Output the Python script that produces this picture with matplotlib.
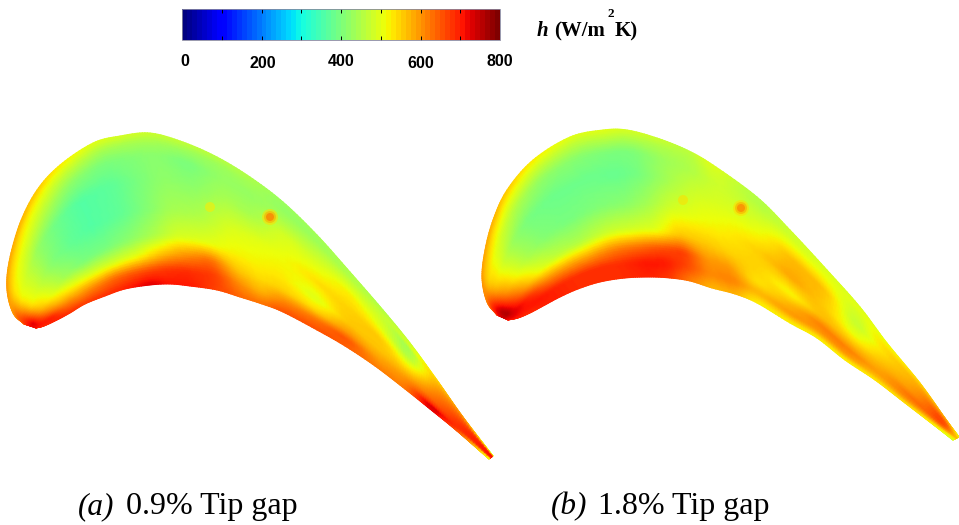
import numpy as np
import matplotlib
matplotlib.use("Agg")
import matplotlib.pyplot as plt
from matplotlib.cm import ScalarMappable
from matplotlib.colors import Normalize

W, H = 959, 525
H_MIN, H_MAX = 0, 800
TICKS = [100, 200, 300, 400, 500, 600, 700]
TICK_TEXT = ["0", "200", "400", "600", "800"]
TICK_TEXT_X = [185, 263, 341, 421, 500]
TICK_TEXT_Y = [62, 63, 61, 63, 61]

ROWS_T = [0, .06, .15, .3, .5, .68, .8, .9, 1]

A_UPPER = [(24,324),(13,313),(7,290),(9,262),(20,223),(37,190),(60,165),(93,143),(120,136),(150,133),
           (183,142),(217,157),(250,177),(283,202),(317,235),(350,272),(383,310),(410,343),(437,380),(463,417),(493,456)]
A_LOWER = [(36,328),(44,326),(57,320),(70,313),(85,304),(105,296),(125,289),(150,285),(170,284),(190,286),
           (217,290),(240,297),(262,304),(283,312),(317,330),(345,346),(375,366),(405,389),(430,409),(457,431),(489,459)]
A_VALUES = [
 [620,650,680,700,720,720,720,720,700],
 [590,610,640,660,700,730,720,710,690],
 [600,570,540,520,530,580,640,700,700],
 [590,550,510,480,480,510,570,640,690],
 [580,530,490,420,410,440,520,600,680],
 [560,510,460,385,375,400,500,620,690],
 [530,480,420,360,360,395,490,640,700],
 [500,450,400,370,375,420,510,660,740],
 [490,440,405,395,405,450,560,680,710],
 [480,440,415,420,440,490,600,690,710],
 [470,430,395,415,450,500,640,680,670],
 [460,430,425,445,490,520,560,610,640],
 [450,440,425,440,500,520,540,570,630],
 [430,420,440,490,510,530,550,610,660],
 [440,430,455,490,540,490,540,630,660],
 [450,450,480,530,550,560,600,660,650],
 [450,470,480,500,560,560,580,600,620],
 [470,490,430,440,510,570,600,610,620],
 [540,560,580,600,620,640,680,750,740],
 [600,620,640,660,680,690,690,680,660],
 [480,500,600,700,720,700,650,560,500],
]
A_SPOTS_X = [270, 270, 270, 210]
A_SPOTS_Y = [217, 217, 217, 207]
A_SPOTS_R = [8, 6, 4, 5]
A_SPOTS_V = [540, 590, 640, 530]

B_UPPER = [(497,315),(487,302),(482,278),(485,250),(493,220),(507,190),(533,160),(570,137),(603,130),(627,130),
           (657,138),(687,150),(713,165),(757,197),(790,230),(827,270),(860,307),(887,343),(920,383),(945,418),(959,437)]
B_LOWER = [(508,320),(518,318),(530,313),(545,305),(560,297),(578,289),(600,282),(625,278),(650,277),(670,278),
           (690,281),(712,288),(735,294),(757,303),(790,323),(817,338),(845,360),(875,380),(905,403),(935,426),(953,440)]
B_VALUES = [
 [650,690,710,730,740,740,720,720,700],
 [610,640,680,720,760,770,740,720,700],
 [600,570,550,570,620,680,720,710,690],
 [590,550,510,490,520,590,680,710,700],
 [580,530,480,430,450,510,620,700,700],
 [560,510,450,395,410,470,600,690,690],
 [530,480,420,385,395,450,590,690,690],
 [500,460,410,385,405,480,620,690,690],
 [500,460,400,380,415,490,640,710,700],
 [490,450,400,395,440,500,660,710,680],
 [480,450,430,440,490,560,680,670,620],
 [460,450,450,480,510,560,600,610,570],
 [500,490,480,490,520,550,600,620,580],
 [450,450,470,500,550,550,530,570,520],
 [480,480,510,570,590,510,570,600,520],
 [490,500,520,570,560,570,620,600,520],
 [490,500,480,460,500,570,620,600,520],
 [510,520,540,540,560,580,590,570,530],
 [540,560,580,590,600,630,620,590,540],
 [580,600,640,680,680,650,600,560,520],
 [500,510,520,540,560,540,520,500,490],
]
B_SPOTS_X = [741, 741, 741, 683]
B_SPOTS_Y = [208, 208, 208, 200]
B_SPOTS_R = [8, 6, 4, 5]
B_SPOTS_V = [540, 590, 630, 540]


def catmull(points, per_segment=12):
    p = np.asarray(points, float)
    q = np.vstack([2 * p[0] - p[1], p, 2 * p[-1] - p[-2]])
    u = np.linspace(0, 1, per_segment, endpoint=False)[:, None]
    out = []
    for i in range(1, len(q) - 2):
        a, b, c, d = q[i - 1], q[i], q[i + 1], q[i + 2]
        out.append(0.5 * (2 * b + (c - a) * u + (2 * a - 5 * b + 4 * c - d) * u**2 + (3 * b - a - 3 * c + d) * u**3))
    out.append(p[-1:])
    return np.vstack(out)


def blur(arr, width, axis):
    pad = [(0, 0), (0, 0)]
    pad[axis] = (width, width)
    padded = np.pad(arr, pad, mode="edge")
    kernel = np.ones(2 * width + 1) / (2 * width + 1)
    return np.apply_along_axis(lambda r: np.convolve(r, kernel, mode="valid"), axis, padded)


def draw_blade(ax, upper, lower, values, cmap, norm, sx, sy, sr, sv):
    per = 12
    up, lo = catmull(upper, per), catmull(lower, per)
    t = np.linspace(0, 1, 61)
    v = np.asarray(values, float)
    across = np.array([np.interp(t, ROWS_T, row) for row in v])
    s_fine = np.linspace(0, len(v) - 1, len(up))
    field = np.array([np.interp(s_fine, np.arange(len(v)), across[:, j]) for j in range(len(t))]).T
    field = blur(blur(field, 3, 0), 1, 1)
    X = up[:, 0][:, None] * (1 - t) + lo[:, 0][:, None] * t
    Y = up[:, 1][:, None] * (1 - t) + lo[:, 1][:, None] * t
    ax.pcolormesh(X, Y, field, cmap=cmap, norm=norm, shading="gouraud", zorder=2)
    for x, y, r, val in zip(sx, sy, sr, sv):
        ax.add_patch(plt.Circle((x, y), r, color=cmap(norm(val)), alpha=0.55, lw=0, zorder=3))


fig = plt.figure(figsize=(W / 100, H / 100), dpi=100, facecolor="white")
ax = fig.add_axes([0, 0, 1, 1])
ax.set_xlim(0, W)
ax.set_ylim(H, 0)
ax.axis("off")

norm = Normalize(H_MIN, H_MAX)
jet = plt.get_cmap("jet")
draw_blade(ax, A_UPPER, A_LOWER, A_VALUES, jet, norm, A_SPOTS_X, A_SPOTS_Y, A_SPOTS_R, A_SPOTS_V)
draw_blade(ax, B_UPPER, B_LOWER, B_VALUES, jet, norm, B_SPOTS_X, B_SPOTS_Y, B_SPOTS_R, B_SPOTS_V)

cax = fig.add_axes([182 / W, 1 - 40 / H, (500 - 182) / W, 31 / H])
sm = ScalarMappable(norm=norm, cmap=plt.get_cmap("jet", 64))
cb = fig.colorbar(sm, cax=cax, orientation="horizontal", ticks=TICKS)
cb.outline.set_linewidth(0.6)
cb.outline.set_edgecolor("#8888a0")
cax.tick_params(axis="x", direction="in", length=3, width=0.7, top=True, bottom=True,
                labelbottom=False, color="black")

for s, x, y in zip(TICK_TEXT, TICK_TEXT_X, TICK_TEXT_Y):
    ax.text(x, y, s, family="Liberation Sans", weight="bold", fontsize=11.5, ha="center", va="center", color="black")

serif = "Liberation Serif"
ax.text(537, 36, "h", family=serif, weight="bold", style="italic", fontsize=15, ha="left", va="baseline")
ax.text(554, 36, "(W/m", family=serif, weight="bold", fontsize=15, ha="left", va="baseline")
ax.text(607, 17, "2", family=serif, weight="bold", fontsize=9.5, ha="left", va="baseline")
ax.text(615, 36, "K)", family=serif, weight="bold", fontsize=15, ha="left", va="baseline")

ax.text(78, 514, "(a)", family=serif, style="italic", fontsize=22.5, ha="left", va="baseline")
ax.text(126, 514, "0.9% Tip gap", family=serif, fontsize=23, ha="left", va="baseline")
ax.text(551, 514, "(b)", family=serif, style="italic", fontsize=22.5, ha="left", va="baseline")
ax.text(598, 514, "1.8% Tip gap", family=serif, fontsize=23, ha="left", va="baseline")

fig.savefig("out.png", dpi=100, facecolor="white")
